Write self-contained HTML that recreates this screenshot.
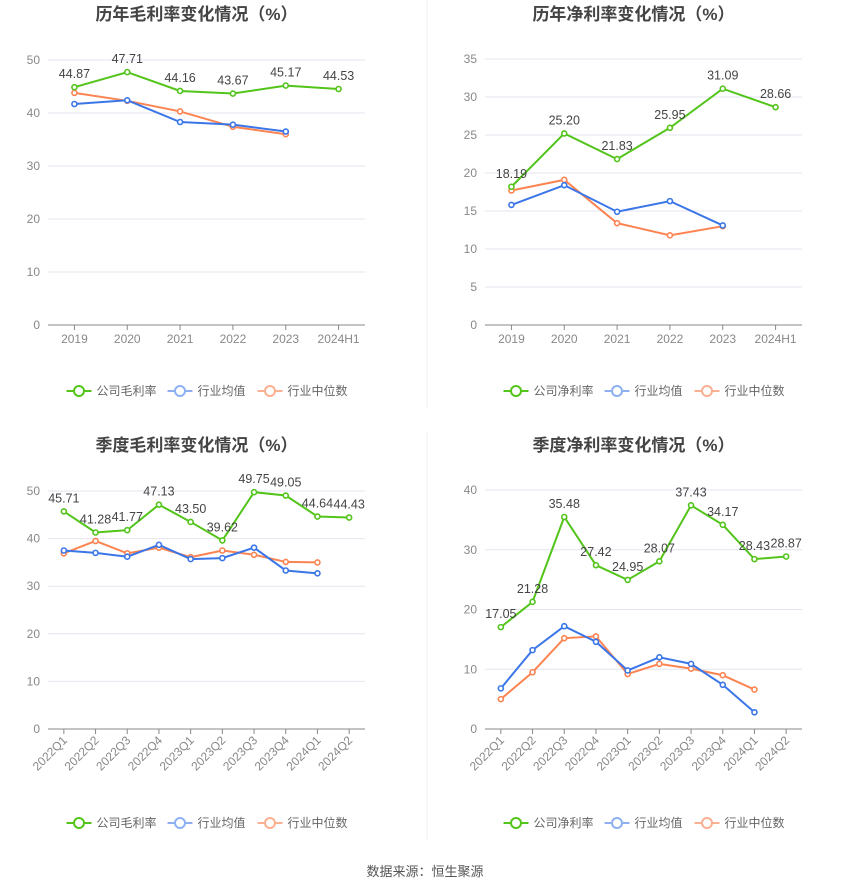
<!DOCTYPE html>
<html><head><meta charset="utf-8"><style>
body{margin:0;background:#fff;font-family:"Liberation Sans","Noto Sans CJK SC",sans-serif}
svg text{font-family:"Liberation Sans","Noto Sans CJK SC",sans-serif}
</style></head><body>
<svg id="s" width="850" height="891">
<line x1="427" y1="0" x2="427" y2="408" stroke="#eee"/>
<line x1="427" y1="432" x2="427" y2="840" stroke="#eee"/>
<text x="425" y="876" text-anchor="middle" font-size="13" fill="#555">数据来源：恒生聚源</text>
</svg>
<script>
const catsY=["2019","2020","2021","2022","2023","2024H1"];
const catsQ=["2022Q1","2022Q2","2022Q3","2022Q4","2023Q1","2023Q2","2023Q3","2023Q4","2024Q1","2024Q2"];
const g1Company=[44.87,47.71,44.16,43.67,45.17,44.53];
const g1Avg=[41.7,42.4,38.3,37.8,36.5];
const g1Med=[43.8,42.3,40.3,37.4,36.0];
const n1Company=[18.19,25.20,21.83,25.95,31.09,28.66];
const n1Avg=[15.8,18.4,14.9,16.3,13.1];
const n1Med=[17.7,19.1,13.4,11.8,13.0];
const g2Company=[45.71,41.28,41.77,47.13,43.50,39.62,49.75,49.05,44.64,44.43];
const g2Avg=[37.5,37.0,36.2,38.7,35.7,35.9,38.1,33.3,32.7];
const g2Med=[36.9,39.5,36.9,38.1,36.1,37.5,36.6,35.1,35.0];
const n2Company=[17.05,21.28,35.48,27.42,24.95,28.07,37.43,34.17,28.43,28.87];
const n2Avg=[6.8,13.2,17.2,14.6,9.8,12.0,10.9,7.4,2.8];
const n2Med=[5.0,9.5,15.2,15.5,9.2,10.9,10.1,9.0,6.6];
const yTicks1=[0,10,20,30,40,50],yTicks2=[0,5,10,15,20,25,30,35],yTicks4=[0,10,20,30,40];
const NS="http://www.w3.org/2000/svg",S=document.getElementById('s');
function mk(t,a,p){const e=document.createElementNS(NS,t);for(const k in a)e.setAttribute(k,a[k]);(p||S).appendChild(e);return e;}
function chart(o){
 const g=mk('g',{});
 
 
 const n=o.cats.length,step=(o.x1-o.x0)/n;
 const X=i=>o.x0+step*(i+0.5),Y=v=>o.yb-(v/o.ymax)*(o.yb-o.yt);
 const t=mk('text',{x:(o.x0+o.x1)/2-10,y:o.ty,'text-anchor':'middle','font-size':17,'font-weight':'bold',fill:'#444'},g);t.textContent=o.title;
 
 
 o.ticks.forEach(v=>{const y=Y(v);
  if(v>0)mk('line',{x1:o.x0,x2:o.x1,y1:y,y2:y,stroke:'#e3e6ef'},g);
  const l=mk('text',{x:o.x0-8,y:y+4,'text-anchor':'end','font-size':12,fill:'#888'},g);l.textContent=v;
  
  });
 mk('line',{x1:o.x0,x2:o.x1,y1:o.yb,y2:o.yb,stroke:'#888'},g);
 o.cats.forEach((c,i)=>{const x=X(i);mk('line',{x1:x,x2:x,y1:o.yb,y2:o.yb+5,stroke:'#888'},g);
  const l=mk('text',{'font-size':12,fill:'#888'},g);l.textContent=c;
  
  
  if(o.rot){l.setAttribute('text-anchor','end');l.setAttribute('transform',`translate(${x+4},${o.yb+12}) rotate(-45)`);}
  else{l.setAttribute('x',x);l.setAttribute('y',o.yb+18);l.setAttribute('text-anchor','middle');}});
 const ser=[[o.med,'#fc8452','industry-median'],[o.avg,'#3a76e8','industry-average'],[o.comp,'#52c41a','company']];
 ser.forEach(([d,c,nm])=>{
  const pl=mk('polyline',{points:d.map((v,i)=>X(i)+','+Y(v)).join(' '),fill:'none',stroke:c,'stroke-width':2},g);
  
  
  d.forEach((v,i)=>{const p=mk('circle',{cx:X(i),cy:Y(v),r:2.5,fill:'#fff',stroke:c,'stroke-width':1.6},g);
   
   
   if(nm==='company'){const l=mk('text',{x:X(i),y:Y(v)-9,'text-anchor':'middle','font-size':12.5,fill:'#444'},g);l.textContent=v.toFixed(2);
    
    }});
 });
 const lx=(o.x0+o.x1)/2-10,ly=o.ly;
 [[o.cname,'#52c41a',-130],['行业均值','#8fb0f0',-29],['行业中位数','#fbb091',61]].forEach(([t,c,dx])=>{
  const lg=mk('g',{},g);
  
  
  mk('line',{x1:lx+dx,x2:lx+dx+25,y1:ly,y2:ly,stroke:c,'stroke-width':2},lg);
  mk('circle',{cx:lx+dx+12.5,cy:ly,r:5,fill:'#fff',stroke:c,'stroke-width':2},lg);
  const tt=mk('text',{x:lx+dx+30,y:ly+4,'font-size':12,fill:'#666'},lg);tt.textContent=t;});
}
chart({name:'annual-gross-margin-chart',title:'历年毛利率变化情况（%）',cname:'公司毛利率',cats:catsY,comp:g1Company,avg:g1Avg,med:g1Med,ticks:yTicks1,ymax:50,x0:48,x1:365,yt:60,yb:325,ty:20,ly:391});
chart({name:'annual-net-margin-chart',title:'历年净利率变化情况（%）',cname:'公司净利率',cats:catsY,comp:n1Company,avg:n1Avg,med:n1Med,ticks:yTicks2,ymax:35,x0:485,x1:802,yt:59,yb:325,ty:20,ly:391});
chart({name:'quarterly-gross-margin-chart',title:'季度毛利率变化情况（%）',cname:'公司毛利率',cats:catsQ,comp:g2Company,avg:g2Avg,med:g2Med,ticks:yTicks1,ymax:50,x0:48,x1:365,yt:491,yb:729,ty:451,ly:823,rot:1});
chart({name:'quarterly-net-margin-chart',title:'季度净利率变化情况（%）',cname:'公司净利率',cats:catsQ,comp:n2Company,avg:n2Avg,med:n2Med,ticks:yTicks4,ymax:40,x0:485,x1:802,yt:490,yb:729,ty:451,ly:823,rot:1});
</script>
</body></html>
